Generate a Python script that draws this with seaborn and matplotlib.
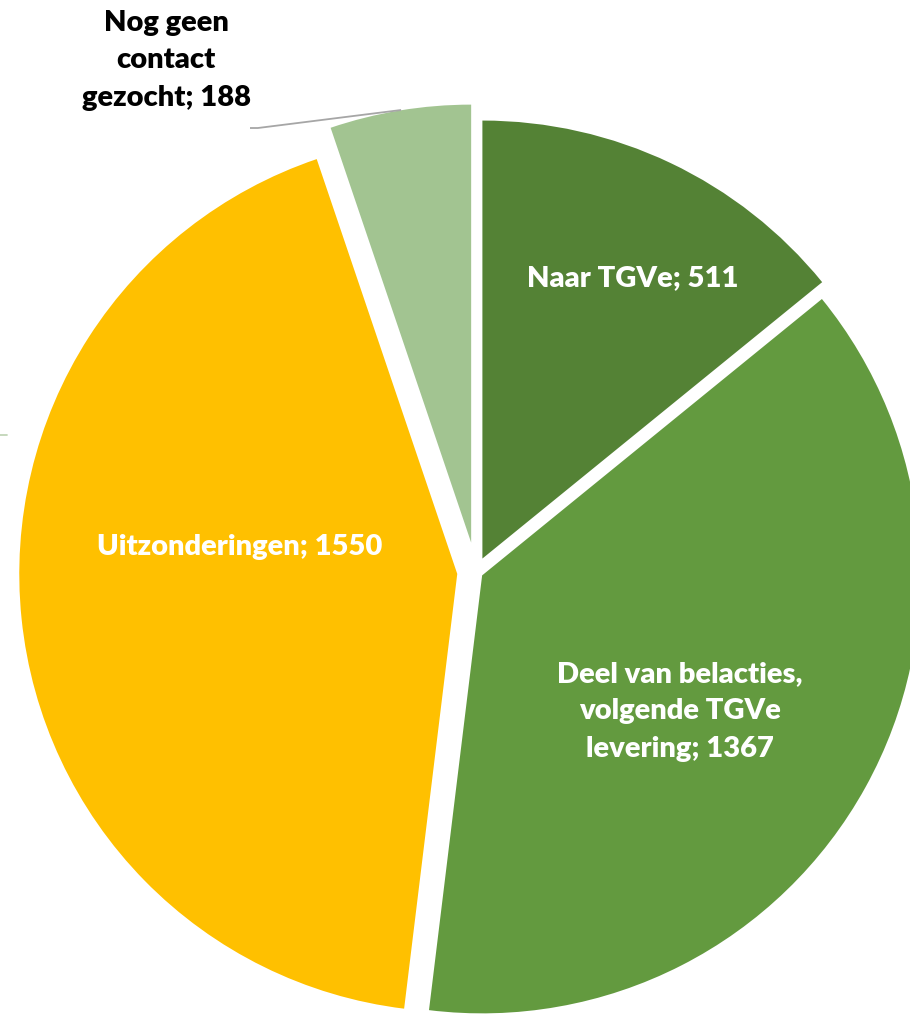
import numpy as np
import matplotlib
matplotlib.use("Agg")
import matplotlib.pyplot as plt
import seaborn as sns

# data
categories = ["Naar TGVe", "Deel van belacties,\nvolgende TGVe\nlevering",
              "Uitzonderingen", "Nog geen\ncontact\ngezocht"]
values = [511, 1367, 1550, 188]
colors = ["#548235", "#639A3F", "#FFC000", "#A2C491"]
explode = [0.034, 0.016, 0.043, 0.068]

# label layout: (radial distance, angle in degrees, text colour)
label_layout = [(0.761, 61.9, "white"), (0.564, -34.3, "white"),
                (0.542, 174.0, "white"), (1.366, 121.2, "black")]

sns.set_theme(style="white")
plt.rcParams["font.family"] = ["Lato", "DejaVu Sans"]

fig = plt.figure(figsize=(9.1, 10.15), dpi=100)
ax = fig.add_axes([0, 0, 1, 1])

wedges, _ = ax.pie(values, colors=colors, explode=explode, startangle=90,
                   counterclock=False, radius=1.0,
                   wedgeprops=dict(linewidth=0))

for cat, val, (dist, ang, col) in zip(categories, values, label_layout):
    a = np.deg2rad(ang)
    ax.text(dist * np.cos(a), dist * np.sin(a), f"{cat}; {val}",
            ha="center", va="center", color=col, fontsize=21,
            fontweight="heavy", linespacing=1.55)

# leader line for the small slice
ax.plot([-0.516, -0.498, -0.171], [1.0137, 1.0137, 1.0548],
        color="#A6A6A6", linewidth=1.3, solid_capstyle="butt")
ax.plot([-1.0868, -1.0708], [0.3128, 0.3128], color="#C2D6B8", linewidth=1.3)

ax.set_xlim(-1.0868, 0.9909)
ax.set_ylim(-1.0114, 1.3059)
ax.set_aspect("equal")
ax.axis("off")

fig.savefig("out.png", dpi=100, facecolor="white")
